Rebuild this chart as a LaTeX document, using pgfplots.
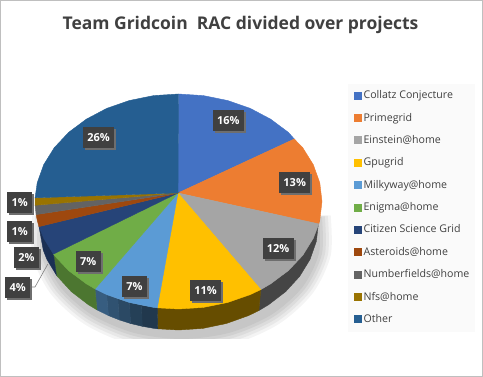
\documentclass[border=0pt]{standalone}
\usepackage{pgfplots}
\usepackage{fontspec}
\setmainfont{Open Sans}
\pgfplotsset{compat=1.18}
\definecolor{c1}{HTML}{4472C4}
\definecolor{c2}{HTML}{ED7D31}
\definecolor{c3}{HTML}{A5A5A5}
\definecolor{c4}{HTML}{FFC000}
\definecolor{c5}{HTML}{5B9BD5}
\definecolor{c6}{HTML}{70AD47}
\definecolor{c7}{HTML}{264478}
\definecolor{c8}{HTML}{9E480E}
\definecolor{c9}{HTML}{636363}
\definecolor{c10}{HTML}{997300}
\definecolor{c11}{HTML}{255E91}
\definecolor{boxc}{HTML}{404040}
\definecolor{boxs}{HTML}{6E6E6E}
\definecolor{ttl}{HTML}{404040}
\definecolor{panel}{HTML}{FAFAFA}
\definecolor{sa}{HTML}{F4F4F4}
\definecolor{sb}{HTML}{E8E8E8}
\definecolor{sc}{HTML}{DCDCDC}
\definecolor{sd}{HTML}{D0D0D0}
\definecolor{se}{HTML}{C6C6C6}
\newcommand\lab[4]{%
 \node[fill=boxs, minimum width=#4, minimum height=21pt, inner sep=0pt] at (axis cs:#1+2,#2+2) {};
 \node[fill=boxc, text=white, font=\fontsize{11}{12}\selectfont\bfseries, minimum width=#4, minimum height=21pt, inner sep=0pt] at (axis cs:#1,#2) {#3};}
\begin{document}
\begin{tikzpicture}
\begin{axis}[
 width=483pt, height=377pt, scale only axis, axis lines=none, clip=false,
 xmin=0, xmax=483, ymin=0, ymax=377, y dir=reverse,
 legend image code/.code={\fill[#1] (0pt,-3.5pt) rectangle (7pt,3.5pt);},
 legend cell align=left,
 legend style={at={(axis cs:354,88.5)}, anchor=north west, fill=none, draw=none,
   font=\fontsize{10.6}{11}\selectfont, text=ttl, row sep=8.8pt, inner sep=0pt},
]
\addplot[forget plot, fill=panel, draw=panel] coordinates {(348,84) (474,84) (474,331) (348,331)} --cycle;
% soft shadow
\addplot[forget plot, fill=sa, draw=none, smooth] coordinates {(330.7,215.4) (330.7,255.6) (312.7,293.3) (278.9,324) (233.3,344.1) (181.5,351) (129.7,344.1) (84.1,324) (50.3,293.3) (32.3,255.6) (32.3,215.4)} --cycle;
\addplot[forget plot, fill=sb, draw=none, smooth] coordinates {(327.8,215.9) (327.8,255.1) (310.1,291.8) (277,321.7) (232.3,341.3) (181.5,348) (130.7,341.3) (86,321.7) (52.9,291.8) (35.2,255.1) (35.2,215.9)} --cycle;
\addplot[forget plot, fill=sc, draw=none, smooth] coordinates {(324.8,216.4) (324.8,254.6) (307.5,290.3) (275.1,319.4) (231.3,338.4) (181.5,345) (131.7,338.4) (87.9,319.4) (55.5,290.3) (38.2,254.6) (38.2,216.4)} --cycle;
\addplot[forget plot, fill=sd, draw=none, smooth] coordinates {(321.9,217) (321.9,254) (304.9,288.8) (273.1,317.1) (230.2,335.6) (181.5,342) (132.8,335.6) (89.9,317.1) (58.1,288.8) (41.1,254) (41.1,217)} --cycle;
\addplot[forget plot, fill=se, draw=none, smooth] coordinates {(318.9,217.5) (318.9,253.5) (302.3,287.3) (271.2,314.8) (229.2,332.8) (181.5,339) (133.8,332.8) (91.8,314.8) (60.7,287.3) (44.1,253.5) (44.1,217.5)} --cycle;
\addplot[forget plot, fill=white, draw=white] coordinates {(20,339.2) (345,339.2) (345,370) (20,370)} --cycle;
% sides
\addplot[forget plot, fill=black!73, draw=black!73] coordinates {(319.8,220.2) (318.5,222.5) (316.4,241.2) (310.1,259.3) (299.7,276.3) (285.7,291.6) (268.5,304.8) (258.8,310.6) (260.8,289.6)} --cycle;
\addplot[forget plot, fill=c4!40!black, draw=c4!40!black] coordinates {(260.8,289.6) (258.8,310.6) (248.5,315.6) (226.4,323.5) (202.8,328.4) (178.5,330) (157.8,328.8) (157.3,307.8)} --cycle;
\addplot[forget plot, fill=c5!36!black, draw=c5!36!black] coordinates {(157.3,307.8) (157.8,328.8) (154.2,328.4) (142.3,326.3) (141.4,305.3) (153.6,307.4)} --cycle;
\addplot[forget plot, fill=c5!41!black, draw=c5!41!black] coordinates {(141.4,305.3) (142.3,326.3) (130.6,323.5) (129.4,302.5)} --cycle;
\addplot[forget plot, fill=c5!47!black, draw=c5!47!black] coordinates {(129.4,302.5) (130.6,323.5) (119.3,319.9) (117.9,298.9)} --cycle;
\addplot[forget plot, fill=c5!53!black, draw=c5!53!black] coordinates {(117.9,298.9) (119.3,319.9) (108.5,315.6) (106.7,294.6)} --cycle;
\addplot[forget plot, fill=c5!60!black, draw=c5!60!black] coordinates {(106.7,294.6) (108.5,315.6) (97,309.9) (95,288.9)} --cycle;
\addplot[forget plot, fill=c6!68!black, draw=c6!68!black] coordinates {(95,288.9) (97,309.9) (88.5,304.8) (71.3,291.6) (57.3,276.3) (56.4,275.1) (53.4,254.1)} --cycle;
\addplot[forget plot, fill=c7!70!black, draw=c7!70!black] coordinates {(53.4,254.1) (56.4,275.1) (46.9,259.3) (43.3,250.3) (39,226.6)} --cycle;
% tops
\addplot[fill=c1, draw=c1] coordinates {(178,193) (178.5,94) (203.4,95.6) (227.6,100.5) (250.3,108.4) (270.7,119.2) (288.4,132.4) (294.3,139)} --cycle;
\addlegendentry{Collatz Conjecture}
\addplot[fill=c2, draw=c2] coordinates {(178,193) (294.3,139) (302.8,147.8) (313.3,164.7) (319.8,182.8) (322,201.5) (319.8,220.2) (318.8,223.9)} --cycle;
\addlegendentry{Primegrid}
\addplot[fill=c3, draw=c3] coordinates {(178,193) (318.8,223.9) (313.3,238.3) (302.8,255.3) (288.4,270.6) (270.7,283.8) (260.8,289.6)} --cycle;
\addlegendentry{Einstein@home}
\addplot[fill=c4, draw=c4] coordinates {(178,193) (260.8,289.6) (250.3,294.6) (227.6,302.5) (203.4,307.4) (178.5,309) (157.3,307.8)} --cycle;
\addlegendentry{Gpugrid}
\addplot[fill=c5, draw=c5] coordinates {(178,193) (157.3,307.8) (153.6,307.4) (129.4,302.5) (106.7,294.6) (95,288.9)} --cycle;
\addlegendentry{Milkyway@home}
\addplot[fill=c6, draw=c6] coordinates {(178,193) (95,288.9) (86.3,283.8) (68.6,270.6) (54.2,255.3) (53.4,254.1)} --cycle;
\addlegendentry{Enigma@home}
\addplot[fill=c7, draw=c7] coordinates {(178,193) (53.4,254.1) (43.7,238.3) (39,226.6)} --cycle;
\addlegendentry{Citizen Science Grid}
\addplot[fill=c8, draw=c8] coordinates {(178,193) (39,226.6) (37.2,220.2) (36.1,214.6)} --cycle;
\addlegendentry{Asteroids@home}
\addplot[fill=c9, draw=c9] coordinates {(178,193) (36.1,214.6) (35.1,205.3)} --cycle;
\addlegendentry{Numberfields@home}
\addplot[fill=c10, draw=c10] coordinates {(178,193) (35.1,205.3) (35,201.5) (35.1,197.8)} --cycle;
\addlegendentry{Nfs@home}
\addplot[fill=c11, draw=c11] coordinates {(178,193) (35.1,197.8) (37.2,182.8) (43.7,164.7) (54.2,147.8) (68.6,132.4) (86.3,119.2) (106.7,108.4) (129.4,100.5) (153.6,95.6) (178.5,94)} --cycle;
\addlegendentry{Other}
% leader and frame
\addplot[forget plot, draw=black!50, line width=.6pt] coordinates {(30,287) (35,287) (47.7,264.3)};
\addplot[forget plot, draw=black!25, line width=1pt] coordinates {(.5,.5) (482.5,.5) (482.5,376.5) (.5,376.5)} --cycle;
\lab{98.5}{137.5}{26\%}{31pt}
\lab{19.7}{202.7}{1\%}{25pt}
\lab{19.7}{231.7}{1\%}{25pt}
\lab{26.5}{258}{2\%}{25pt}
\lab{17.7}{287.5}{4\%}{25pt}
\lab{88.3}{261.5}{7\%}{25pt}
\lab{134.5}{286.5}{7\%}{25pt}
\lab{228.3}{121}{16\%}{31pt}
\lab{294.7}{182.5}{13\%}{31pt}
\lab{278}{248.5}{12\%}{31pt}
\lab{205.5}{290.5}{11\%}{31pt}
\node[font=\fontsize{17.5}{20}\selectfont\bfseries, text=ttl] at (axis cs:240.5,25) {Team Gridcoin\ \ RAC divided over projects};
\end{axis}
\end{tikzpicture}
\end{document}
